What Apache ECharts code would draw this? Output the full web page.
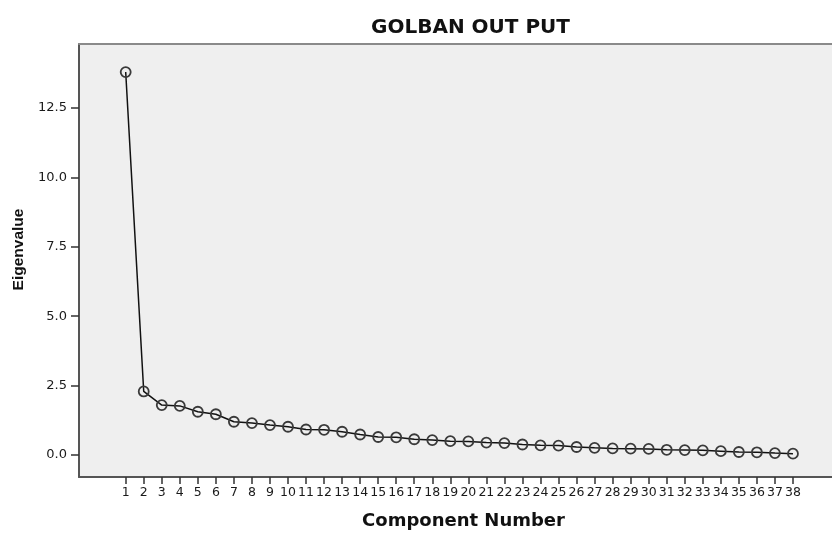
<!DOCTYPE html>
<html>
<head>
<meta charset="utf-8">
<script src="https://cdn.jsdelivr.net/npm/echarts@6/dist/echarts.min.js"></script>
<style>
  html, body { margin: 0; padding: 0; background: #fff; }
  #main { width: 832px; height: 535px; }
</style>
</head>
<body>
<div id="main"></div>
<script>
var components = [];
for (var i = 1; i <= 38; i++) components.push(i);

var eigenvalues = [
  13.79, 2.29, 1.80, 1.77, 1.56, 1.47, 1.20, 1.15, 1.08, 1.02,
  0.92, 0.91, 0.84, 0.74, 0.65, 0.64, 0.57, 0.54, 0.50, 0.49,
  0.45, 0.43, 0.38, 0.35, 0.34, 0.29, 0.26, 0.24, 0.23, 0.22,
  0.19, 0.18, 0.17, 0.14, 0.11, 0.10, 0.07, 0.05
];

var yTicks = [0, 2.5, 5, 7.5, 10, 12.5];

var chartDom = document.getElementById('main');
var myChart = echarts.init(chartDom);
var option;

option = {
  backgroundColor: '#fff',
  animation: false,
  title: {
    text: 'GOLBAN OUT PUT',
    left: 366,
    top: 13,
    textStyle: {
      fontFamily: 'DejaVu Sans',
      fontWeight: 'bold',
      fontSize: 20,
      color: '#111'
    }
  },
  grid: {
    left: 79,
    right: -5,
    top: 44,
    bottom: 57,
    show: true,
    backgroundColor: '#efefef',
    borderWidth: 0
  },
  xAxis: [
    {
      type: 'value',
      min: -1.589,
      max: 40.165,
      name: 'Component Number',
      nameLocation: 'middle',
      nameGap: 35,
      nameTextStyle: {
        fontFamily: 'DejaVu Sans',
        fontWeight: 'bold',
        fontSize: 18,
        color: '#111',
        padding: [0, 0, 0, 16]
      },
      splitLine: { show: false },
      axisLine: { show: true, onZero: false, lineStyle: { color: '#555', width: 2 } },
      axisTick: {
        show: true,
        length: 7,
        customValues: components,
        lineStyle: { color: '#333', width: 1.5 }
      },
      axisLabel: {
        customValues: components,
        margin: 9,
        fontFamily: 'DejaVu Sans',
        fontSize: 12.5,
        color: '#1a1a1a'
      }
    },
    {
      // top frame line only
      type: 'value',
      position: 'top',
      min: 0,
      max: 1,
      splitLine: { show: false },
      axisLine: { show: true, onZero: false, lineStyle: { color: '#8a8a8a', width: 2 } },
      axisTick: { show: false },
      axisLabel: { show: false }
    }
  ],
  yAxis: {
    type: 'value',
    min: -0.79,
    max: 14.8,
    name: 'Eigenvalue',
    nameLocation: 'middle',
    nameGap: 48,
    nameTextStyle: {
      fontFamily: 'Liberation Sans',
      fontWeight: 'bold',
      fontSize: 15.5,
      color: '#111',
      padding: [0, 0, 0, 22]
    },
    splitLine: { show: false },
    axisLine: { show: true, onZero: false, lineStyle: { color: '#555', width: 2 } },
    axisTick: {
      show: true,
      length: 8,
      customValues: yTicks,
      lineStyle: { color: '#333', width: 1.5 }
    },
    axisLabel: {
      customValues: yTicks,
      margin: 12,
      fontFamily: 'DejaVu Sans',
      fontSize: 13,
      color: '#1a1a1a',
      formatter: function (v) { return v.toFixed(1); }
    }
  },
  series: [
    {
      type: 'line',
      xAxisIndex: 0,
      data: components.map(function (c, i) { return [c, eigenvalues[i]]; }),
      symbol: 'circle',
      symbolSize: 10,
      lineStyle: { color: '#111', width: 1.5 },
      itemStyle: {
        color: 'rgba(0,0,0,0)',
        borderColor: '#3a3a3a',
        borderWidth: 1.8
      },
      emphasis: { disabled: true }
    }
  ]
};

option && myChart.setOption(option);
</script>
</body>
</html>
